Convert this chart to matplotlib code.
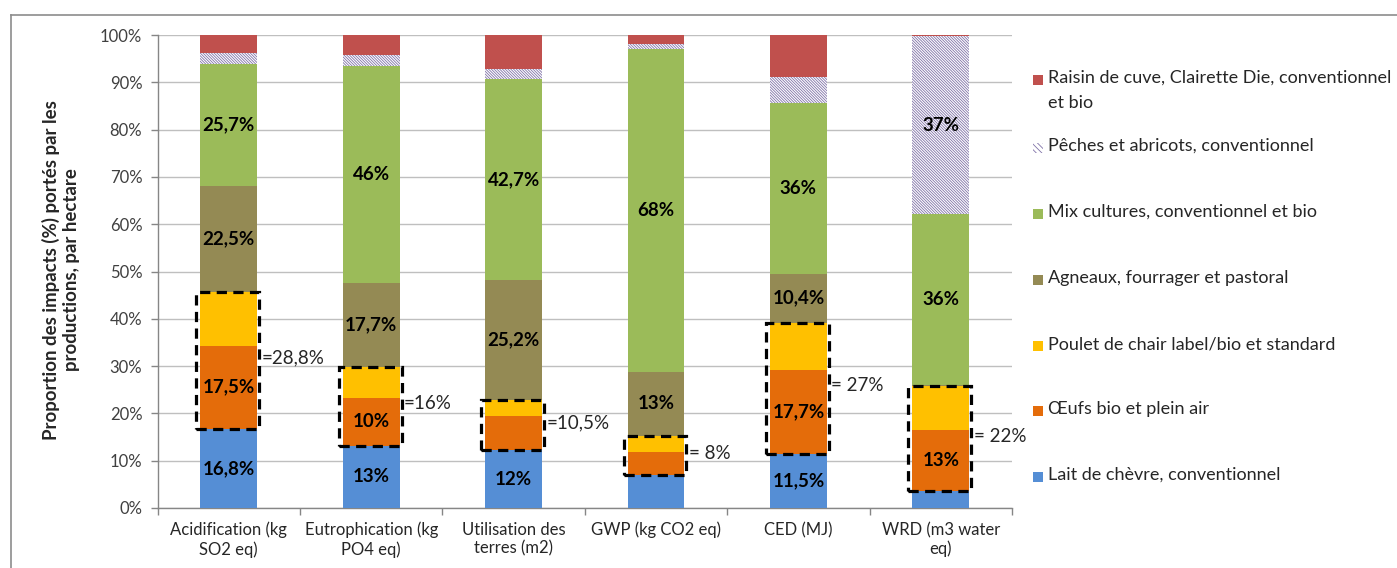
import matplotlib
matplotlib.use('Agg')
import matplotlib.pyplot as plt
import numpy as np
from matplotlib.patches import Rectangle
from matplotlib.lines import Line2D

plt.rcParams['font.family'] = ['Lato', 'DejaVu Sans']
plt.rcParams['hatch.linewidth'] = 0.6

categories = ["Acidification (kg\nSO2 eq)", "Eutrophication (kg\nPO4 eq)",
              "Utilisation des\nterres (m2)", "GWP (kg CO2 eq)", "CED (MJ)",
              "WRD (m3 water\neq)"]
series_names = ["Lait de chèvre, conventionnel", "Œufs bio et plein air",
                "Poulet de chair label/bio et standard", "Agneaux, fourrager et pastoral",
                "Mix cultures, conventionnel et bio", "Pêches et abricots, conventionnel",
                "Raisin de cuve, Clairette Die, conventionnel\net bio"]

lait = [16.8, 13.2, 12.2, 6.9, 11.5, 3.5]
oeufs = [17.5, 10.1, 7.2, 5.0, 17.7, 12.9]
poulet = [11.3, 6.5, 3.5, 3.4, 10.0, 9.4]
agneaux = [22.5, 17.7, 25.2, 13.5, 10.3, 0.3]
mix = [25.7, 46.0, 42.7, 68.2, 36.2, 36.0]
peches = [2.3, 2.2, 2.0, 1.0, 5.5, 37.6]
raisin = [3.9, 4.3, 7.2, 2.0, 8.8, 0.3]

lait_labels = ["16,8%", "13%", "12%", "", "11,5%", ""]
oeufs_labels = ["17,5%", "10%", "", "", "17,7%", "13%"]
poulet_labels = ["", "", "", "", "", ""]
agneaux_labels = ["22,5%", "17,7%", "25,2%", "13%", "10,4%", ""]
mix_labels = ["25,7%", "46%", "42,7%", "68%", "36%", "36%"]
peches_labels = ["", "", "", "", "", "37%"]
raisin_labels = ["", "", "", "", "", ""]
sum_labels = ["=28,8%", "=16%", "=10,5%", "= 8%", "= 27%", "= 22%"]

yticks = [0, 10, 20, 30, 40, 50, 60, 70, 80, 90, 100]
ytick_labels = ["0%", "10%", "20%", "30%", "40%", "50%", "60%", "70%", "80%", "90%", "100%"]

series = [lait, oeufs, poulet, agneaux, mix, peches, raisin]
labels = [lait_labels, oeufs_labels, poulet_labels, agneaux_labels, mix_labels,
          peches_labels, raisin_labels]
colors = ['#558ED5', '#E46C0A', '#FFC000', '#948A54', '#9BBB59', 'white', '#C0504D']
hatches = [None, None, None, None, None, '\\' * 12, None]
hatch_col = '#8072A8'

W, H = 1397, 568
fig = plt.figure(figsize=(W / 100, H / 100), dpi=100)
ax = fig.add_axes([157.6 / W, 1 - 508 / H, (1012 - 157.6) / W, (508 - 35) / H])

x = np.arange(len(categories))
bw = 0.4
bottom = np.zeros(len(categories))
for vals, lab, col, hat, name in zip(series, labels, colors, hatches, series_names):
    vals = np.array(vals)
    if hat:
        bars = ax.bar(x, vals, bw, bottom=bottom, color=col, hatch=hat,
                      edgecolor=hatch_col, linewidth=0, zorder=3)
    else:
        bars = ax.bar(x, vals, bw, bottom=bottom, color=col, edgecolor='none', zorder=3)
    ax.bar_label(bars, labels=lab, label_type='center', fontsize=13.5,
                 fontweight='bold', color='black', zorder=5)
    bottom = bottom + vals

# dashed boxes around Œufs + Poulet
for i in range(len(categories)):
    y0 = lait[i]
    h = oeufs[i] + poulet[i]
    ax.add_patch(Rectangle((x[i] - bw / 2 - 0.028, y0), bw + 0.042, h,
                           fill=False, edgecolor='black', linewidth=2.3,
                           linestyle=(0, (3.2, 2.0)), zorder=6, clip_on=False))
    ax.text(x[i] + bw / 2 + 0.03, y0 + h / 2 + 0.5, sum_labels[i], ha='left',
            va='center', fontsize=13.5, color='#262626', zorder=7)

ax.set_xlim(-0.5, len(categories) - 0.5)
ax.set_ylim(0, 100)
ax.set_yticks(yticks)
ax.set_yticklabels(ytick_labels)
ax.set_xticks(x)
ax.set_xticklabels(categories)
ax.set_xticks(np.arange(-0.5, len(categories), 1.0), minor=True)
ax.tick_params(axis='x', which='major', length=0, pad=10, labelsize=12, labelcolor='#262626')
ax.tick_params(axis='x', which='minor', length=5, color='#868686', width=1)
ax.tick_params(axis='y', length=5, color='#868686', width=1, pad=6, labelsize=12,
               labelcolor='#404040')
ax.yaxis.grid(True, color='#BFBFBF', linewidth=1, zorder=0)
ax.set_axisbelow(True)
for s in ['top', 'right']:
    ax.spines[s].set_visible(False)
for s in ['left', 'bottom']:
    ax.spines[s].set_color('#868686')
    ax.spines[s].set_linewidth(1)

fig.text(61 / W, 1 - 270 / H, "Proportion des impacts (%) portés par les\nproductions, par hectare",
         rotation=90, ha='center', va='center', fontsize=13.4, fontweight='bold',
         color='#262626', multialignment='center', linespacing=1.25)

# legend (top = last series)
leg_y = [80, 148, 214, 280, 346, 411, 477]
order = list(range(len(series_names)))[::-1]
for yy, k in zip(leg_y, order):
    r = Rectangle((1033 / W, 1 - (yy + 5) / H), 10 / W, 10 / H, transform=fig.transFigure,
                  facecolor=colors[k], edgecolor=hatch_col if hatches[k] else 'none',
                  hatch=('\\' * 6) if hatches[k] else None, linewidth=0)
    fig.add_artist(r)
    fig.text(1048 / W, 1 - (yy - 10) / H, series_names[k], ha='left', va='top',
             fontsize=13, color='#262626', linespacing=1.7)

# figure border
fig.add_artist(Line2D([11 / W, 11 / W], [0, 1 - 15 / H], transform=fig.transFigure,
                      color='#8C8C8C', linewidth=1.2))
fig.add_artist(Line2D([11 / W, 1], [1 - 15 / H, 1 - 15 / H], transform=fig.transFigure,
                      color='#8C8C8C', linewidth=1.2))

fig.savefig('out.png', dpi=100)
